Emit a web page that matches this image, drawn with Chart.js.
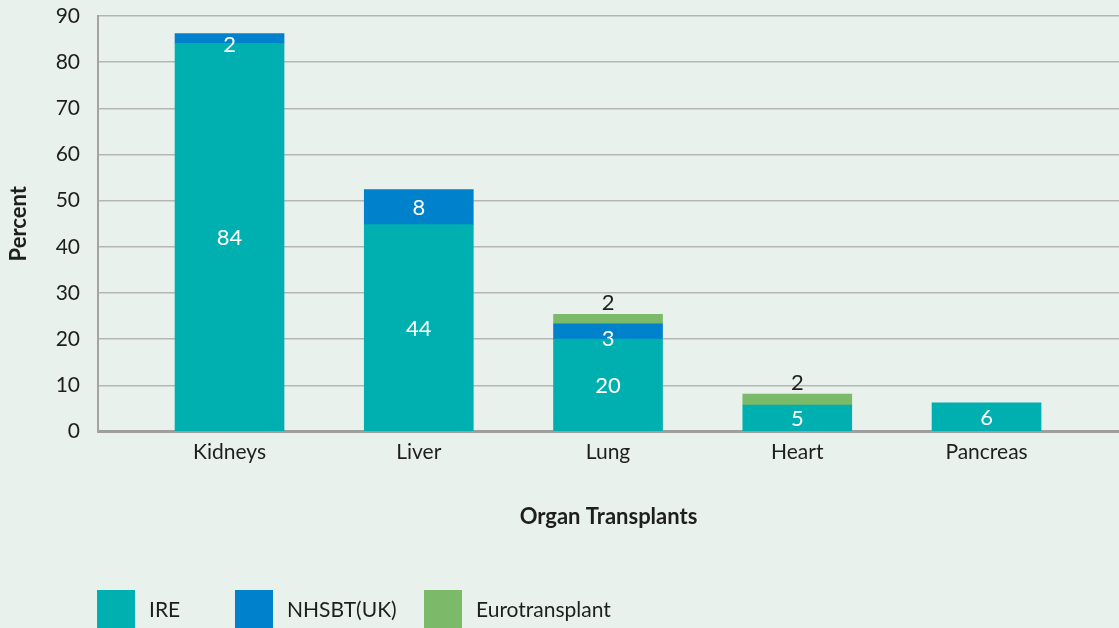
<!DOCTYPE html>
<html><head><meta charset="utf-8">
<script src="https://cdn.jsdelivr.net/npm/chart.js@4.4.1/dist/chart.umd.min.js"></script>
<style>html,body{margin:0;padding:0;background:#e8f1ec;overflow:hidden}canvas{display:block}</style>
</head><body><canvas id="c" width="1119" height="628"></canvas>
<script>
const categories = ['Kidneys', 'Liver', 'Lung', 'Heart', 'Pancreas'];
const seriesNames = ['IRE', 'NHSBT(UK)', 'Eurotransplant'];
const seriesColors = ['#00b0b0', '#0081cb', '#7bba68'];
const ireValues = [84.1, 44.8, 20.0, 5.7, 6.2];
const nhsbtValues = [2.1, 7.6, 3.3, null, null];
const euroValues = [null, null, 2.1, 2.4, null];
const ireLabels = ['84', '44', '20', '5', '6'];
const nhsbtLabels = ['2', '8', '3', '', ''];
const euroLabels = ['', '', '2', '2', ''];
const yMin = 0, yMax = 90, yStep = 10;

const FONT = 'Lato, "Open Sans", sans-serif';
const TXT = '#1e1e1e';

function pts(arr) { return arr.map((v, i) => ({ x: i, y: v })); }

const valueLabels = {
  id: 'valueLabels',
  afterDatasetsDraw(chart) {
    const ctx = chart.ctx;
    chart.data.datasets.forEach((ds, di) => {
      const meta = chart.getDatasetMeta(di);
      meta.data.forEach((bar, i) => {
        const txt = ds.valueLabels[i];
        if (!txt) return;
        const p = bar.getProps(['x', 'y', 'base'], true);
        ctx.save();
        ctx.font = '22px ' + FONT;
        ctx.textAlign = 'center';
        ctx.textBaseline = 'middle';
        if (ds.labelAbove) {
          ctx.fillStyle = TXT;
          ctx.fillText(txt, p.x, p.y - 11);
        } else {
          const h = Math.abs(p.base - p.y);
          ctx.fillStyle = '#ffffff';
          ctx.fillText(txt, p.x, (p.y + p.base) / 2 + (h < 20 ? 7 : 1));
        }
        ctx.restore();
      });
    });
  }
};

const customLegend = {
  id: 'customLegend',
  afterDraw(chart) {
    const ctx = chart.ctx;
    const xs = [97, 235, 424];
    chart.data.datasets.forEach((ds, i) => {
      ctx.save();
      ctx.fillStyle = ds.backgroundColor;
      ctx.fillRect(xs[i], 590, 38, 40);
      ctx.fillStyle = TXT;
      ctx.font = '21px ' + FONT;
      ctx.textAlign = 'left';
      ctx.textBaseline = 'middle';
      ctx.fillText(ds.label, xs[i] + 52, 610);
      ctx.restore();
    });
  }
};

new Chart(document.getElementById('c'), {
  type: 'bar',
  data: {
    datasets: [
      { label: seriesNames[0], data: pts(ireValues), backgroundColor: seriesColors[0], valueLabels: ireLabels },
      { label: seriesNames[1], data: pts(nhsbtValues), backgroundColor: seriesColors[1], valueLabels: nhsbtLabels },
      { label: seriesNames[2], data: pts(euroValues), backgroundColor: seriesColors[2], valueLabels: euroLabels, labelAbove: true }
    ]
  },
  options: {
    responsive: false,
    animation: false,
    devicePixelRatio: 1,
    barThickness: 109,
    layout: { padding: { top: 16, left: 0, right: 0, bottom: 0 } },
    plugins: { legend: { display: false }, tooltip: { enabled: false } },
    scales: {
      x: {
        type: 'linear',
        min: -0.695,
        max: 4.70,
        stacked: true,
        offset: false,
        grid: { display: false, drawTicks: false },
        border: { display: true, color: '#9e9e9e', width: 3 },
        ticks: {
          stepSize: 1, includeBounds: false, autoSkip: false, maxRotation: 0, padding: 8,
          color: TXT, font: { family: FONT, size: 21 },
          callback: (v) => (Number.isInteger(v) && categories[v]) ? categories[v] : ''
        },
        title: { display: true, text: 'Organ Transplants', color: TXT,
          font: { family: FONT, size: 22, weight: 'bold' }, padding: { top: 0, bottom: 98 } },
        afterFit: (s) => { s.height = 196.5; s.paddingLeft = 0; s.paddingRight = 0; }
      },
      y: {
        min: yMin, max: yMax, stacked: true,
        grid: { color: '#b5b5b5', lineWidth: 1.5, drawTicks: false },
        border: { display: true, color: '#a3a3a3', width: 2 },
        ticks: { stepSize: yStep, padding: 18, color: TXT, font: { family: FONT, size: 21 } },
        title: { display: true, text: 'Percent', color: TXT,
          font: { family: FONT, size: 22, weight: 'bold' }, padding: { top: 6 } },
        afterFit: (s) => { s.width = 98; s.paddingTop = 0; s.paddingBottom = 0; }
      }
    }
  },
  plugins: [valueLabels, customLegend]
});
</script>
</body></html>
